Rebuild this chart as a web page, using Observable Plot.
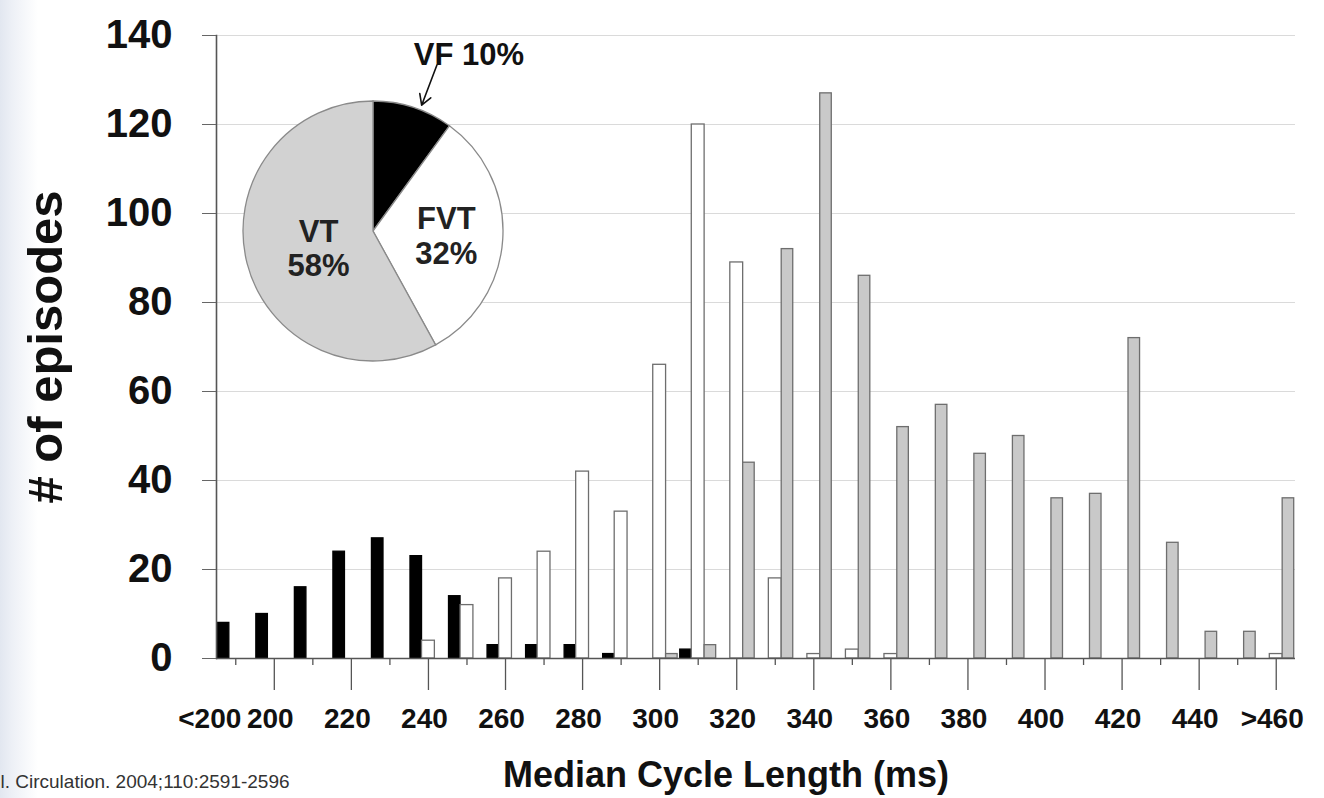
<!DOCTYPE html>
<html><head><meta charset="utf-8">
<script src="https://cdn.jsdelivr.net/npm/d3@7"></script>
<script src="https://cdn.jsdelivr.net/npm/@observablehq/plot@0.6"></script>
<style>
html,body{margin:0;padding:0;background:#fff;}
#wrap{position:relative;width:1324px;height:798px;overflow:hidden;background:linear-gradient(to right,#e2e7f0 0px,#edf0f6 12px,#ffffff 38px);}
#chart{position:absolute;left:0;top:0;}
#pie{position:absolute;left:213px;top:0;}
svg{font-family:"Liberation Sans",Arial,sans-serif;}
</style></head><body>
<div id="wrap"><div id="chart"></div><div id="pie"></div></div>
<script>
// ---- data ----
const categories = ["<200","200","210","220","230","240","250","260","270","280","290","300","310","320","330","340","350","360","370","380","390","400","410","420","430","440","450",">460"];
const vfCounts  = [8,10,16,24,27,23,14,3,3,3,1,0,2,0,0,0,0,0,0,0,0,0,0,0,0,0,0,0];
const fvtCounts = [0,0,0,0,0,4,12,18,24,42,33,66,120,89,18,1,2,1,0,0,0,0,0,0,0,0,0,1];
const vtCounts  = [0,0,0,0,0,0,0,0,0,0,0,1,3,44,92,127,86,52,57,46,50,36,37,72,26,6,6,36];
const seriesNames = ["VF","FVT","VT"];
const yTicks = [0,20,40,60,80,100,120,140];
const firstLabelCat = ["<200"];
const labelCats = ["200","220","240","260","280","300","320","340","360","380","400","420","440",">460"];
const longTickCats = ["200","220","240","260","280","300","320","340","360","380","400","420","440",">460"];
const shortTickCats = ["<200","210","230","250","270","290","310","330","350","370","390","410","430","450"];
const pieNames = ["VF","FVT","VT"];
const piePercents = [10,32,58];
const xTitle = "Median Cycle Length (ms)";
const yTitle = "# of episodes";
const caption = "l. Circulation. 2004;110:2591-2596";

// ---- tables ----
const key = (c, s) => c + "|" + s;
const xDomain = categories.flatMap(c => seriesNames.map(s => key(c, s)));
const countsBySeries = {VF: vfCounts, FVT: fvtCounts, VT: vtCounts};
const table = categories.flatMap((c, i) => seriesNames.map(s => ({cat: c, series: s, n: countsBySeries[s][i]})));
const barStyle = {
  VF: {fill: "#000", stroke: "#000", insetLeft: 1.3, insetRight: 0},
  FVT: {fill: "#fff", stroke: "#6e6e6e", insetLeft: 0, insetRight: 0},
  VT: {fill: "#c9c9c9", stroke: "#6e6e6e", insetLeft: 0, insetRight: 1.3}
};
const mid = c => key(c, "FVT");
const catOf = k => k.split("|")[0];
const font = "'Liberation Sans', Arial, sans-serif";

const chart = Plot.plot({
  width: 1324, height: 798,
  marginLeft: 216, marginRight: 29, marginTop: 35, marginBottom: 140,
  style: {fontFamily: font, background: "transparent", overflow: "visible", color: "#111"},
  x: {type: "band", domain: xDomain, padding: 0, label: null},
  y: {domain: [0, 140], label: null},
  marks: [
    Plot.ruleY(yTicks.filter(d => d > 0), {stroke: "#dadada", strokeWidth: 1}),
    ...seriesNames.map(s => Plot.barY(table.filter(d => d.series === s && d.n > 0), {
      x: d => key(d.cat, d.series), y: "n",
      fill: barStyle[s].fill, stroke: barStyle[s].stroke, strokeWidth: 1.3,
      insetLeft: barStyle[s].insetLeft, insetRight: barStyle[s].insetRight
    })),
    Plot.ruleY([0], {stroke: "#555", strokeWidth: 1.6}),
    Plot.frame({anchor: "left", stroke: "#555", strokeWidth: 1.6}),
    Plot.axisY({ticks: yTicks, tickSize: 14, tickPadding: 30, fontSize: 40, fontWeight: "bold", stroke: "#666", fill: "#111", label: null}),
    Plot.axisX({ticks: shortTickCats.map(mid), tickSize: 7, fill: "none", stroke: "#555", strokeWidth: 1.3, label: null}),
    Plot.axisX({ticks: longTickCats.map(mid), tickSize: 32, fill: "none", stroke: "#555", strokeWidth: 1.3, label: null}),
    Plot.axisX({ticks: firstLabelCat.map(mid), tickFormat: catOf, tickSize: 0, tickPadding: 50, dx: -26, fontSize: 28, fontWeight: "bold", fill: "#111", label: null}),
    Plot.axisX({ticks: labelCats.map(mid), tickFormat: catOf, tickSize: 0, tickPadding: 50, dx: -4, fontSize: 28, fontWeight: "bold", fill: "#111", label: null}),
    Plot.text([xTitle], {frameAnchor: "bottom", textAnchor: "middle", dx: -30, dy: 128, fontSize: 36, fontWeight: "bold", fill: "#111"}),
    Plot.text([yTitle], {frameAnchor: "left", textAnchor: "middle", rotate: -90, dx: -170, fontSize: 49, fontWeight: "bold", fill: "#111"}),
    Plot.text([caption], {frameAnchor: "bottom-left", textAnchor: "start", dx: -216, dy: 129, fontSize: 19, fill: "#333"})
  ]
});
document.getElementById("chart").append(chart);

// ---- pie inset ----
const pieData = pieNames.map((name, i) => ({name, pct: piePercents[i]}));
const pieFill = {VF: "#000", FVT: "#fff", VT: "#d2d2d2"};
const arcs = d3.pie().sort(null).value(d => d.pct)(pieData);
const unitArc = d3.arc().innerRadius(0).outerRadius(1);
const inside = arcs.filter(a => a.data.name !== "VF").map(a => {
  const [cx, cy] = unitArc.centroid(a);
  return {x: cx, y: -cy, text: `${a.data.name}\n${a.data.pct}%`};
});
const vfArc = arcs.find(a => a.data.name === "VF");
const vfMid = (vfArc.startAngle + vfArc.endAngle) / 2 + 0.05;
const arrowData = [{
  x1: Math.sin(vfMid) * 1.37, y1: Math.cos(vfMid) * 1.37,
  x2: Math.sin(vfMid) * 1.04, y2: Math.cos(vfMid) * 1.04,
  text: `${vfArc.data.name} ${vfArc.data.pct}%`
}];

const pie = Plot.plot({
  width: 360, height: 380, margin: 0,
  x: {domain: [-1, 1], range: [30, 290], axis: null},
  y: {domain: [-1, 1], range: [361, 101], axis: null},
  style: {fontFamily: font, background: "transparent", overflow: "visible", color: "#111"},
  marks: [
    (index, scales) => {
      const cx = scales.x(0), cy = scales.y(0), r = scales.x(1) - cx;
      const arc = d3.arc().innerRadius(0).outerRadius(r);
      const g = d3.create("svg:g").attr("transform", `translate(${cx},${cy})`);
      g.selectAll("path").data(arcs).join("path")
        .attr("d", arc)
        .attr("fill", d => pieFill[d.data.name])
        .attr("stroke", "#8a8a8a")
        .attr("stroke-width", 1.3);
      return g.node();
    },
    Plot.text(inside, {x: "x", y: "y", text: "text", dx: 8, fontSize: 31, fontWeight: "bold", lineHeight: 1.1, fill: "#222"}),
    Plot.arrow(arrowData, {x1: "x1", y1: "y1", x2: "x2", y2: "y2", stroke: "#111", strokeWidth: 1.6, headLength: 11}),
    Plot.text(arrowData, {x: "x1", y: "y1", text: "text", dx: 32, dy: -10, fontSize: 31, fontWeight: "bold", fill: "#111"})
  ]
});
document.getElementById("pie").append(pie);
</script>
</body></html>
